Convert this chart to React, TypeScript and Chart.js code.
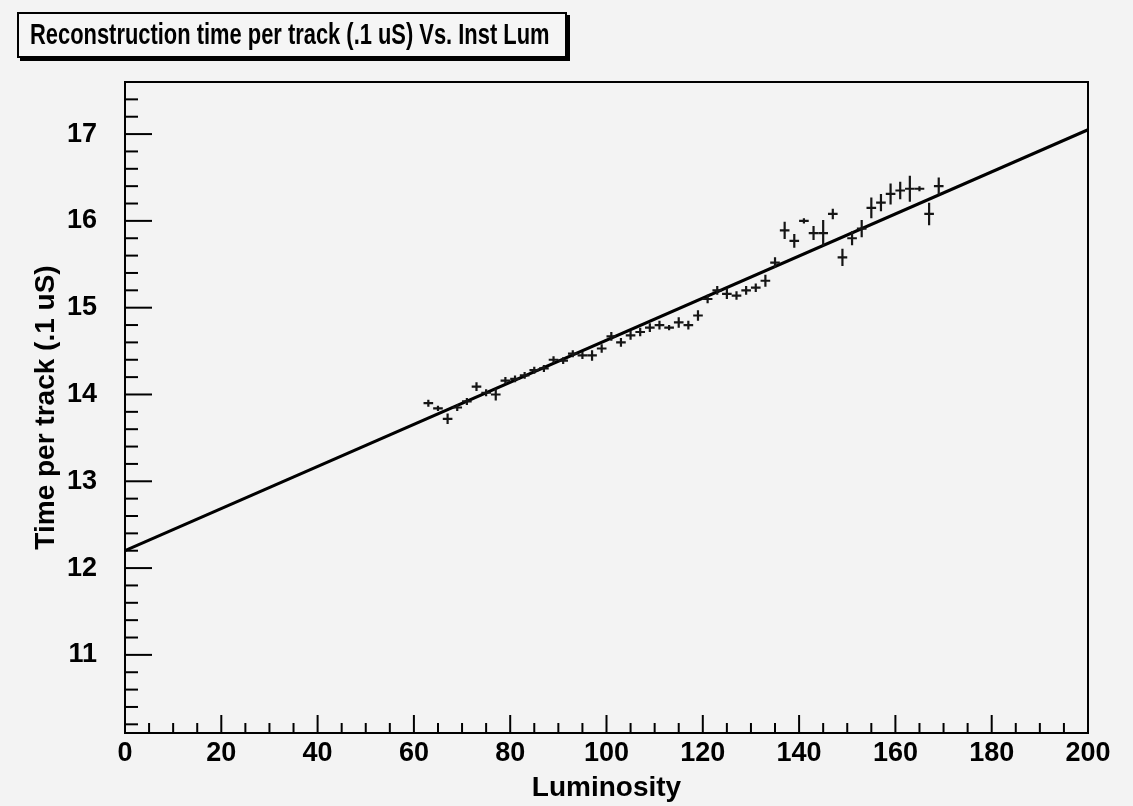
import React, { useEffect, useRef } from "react";
import { Chart, registerables } from "chart.js";

Chart.register(...registerables);

const lumValues = [63, 65, 67, 69, 71, 73, 75, 77, 79, 81, 83, 85, 87, 89, 91, 93, 95, 97, 99, 101, 103, 105, 107, 109, 111, 113, 115, 117, 119, 121, 123, 125, 127, 129, 131, 133, 135, 137, 139, 141, 143, 145, 147, 149, 151, 153, 155, 157, 159, 161, 163, 165, 167, 169];
const timeValues = [13.90, 13.84, 13.72, 13.85, 13.92, 14.09, 14.02, 14.00, 14.16, 14.18, 14.22, 14.28, 14.30, 14.40, 14.39, 14.47, 14.45, 14.45, 14.53, 14.67, 14.60, 14.68, 14.72, 14.77, 14.80, 14.77, 14.83, 14.80, 14.91, 15.10, 15.20, 15.16, 15.14, 15.20, 15.23, 15.31, 15.52, 15.89, 15.77, 16.00, 15.86, 15.86, 16.08, 15.58, 15.80, 15.91, 16.15, 16.21, 16.31, 16.35, 16.37, 16.37, 16.08, 16.40];
const timeErrors = [0.04, 0.03, 0.06, 0.04, 0.04, 0.05, 0.04, 0.07, 0.04, 0.04, 0.04, 0.04, 0.04, 0.04, 0.04, 0.04, 0.04, 0.06, 0.05, 0.05, 0.05, 0.05, 0.05, 0.05, 0.05, 0.03, 0.06, 0.05, 0.06, 0.05, 0.05, 0.06, 0.05, 0.05, 0.05, 0.07, 0.06, 0.10, 0.08, 0.03, 0.08, 0.15, 0.06, 0.10, 0.08, 0.10, 0.12, 0.10, 0.12, 0.10, 0.15, 0.03, 0.13, 0.10];
const lumHalfWidth = 1;
const fitLum = [0, 200];
const fitTime = [12.2, 17.05];
const xTickValues = [0, 20, 40, 60, 80, 100, 120, 140, 160, 180, 200];
const yTickValues = [11, 12, 13, 14, 15, 16, 17];

const TITLE = "Reconstruction time per track (.1 uS) Vs. Inst Lum";
const FONT = "'Liberation Sans', Arial, Helvetica, sans-serif";

const framePlugin = {
  id: "rootFrame",
  afterDatasetsDraw(chart: any) {
    const { ctx, chartArea: a, scales } = chart;
    const xs = scales.x;
    const ys = scales.y;
    ctx.save();
    // error bars
    ctx.strokeStyle = "#151515";
    ctx.lineWidth = 2.2;
    for (let i = 0; i < lumValues.length; i++) {
      const x = xs.getPixelForValue(lumValues[i]);
      const y = ys.getPixelForValue(timeValues[i]);
      const x0 = xs.getPixelForValue(lumValues[i] - lumHalfWidth);
      const x1 = xs.getPixelForValue(lumValues[i] + lumHalfWidth);
      const y0 = ys.getPixelForValue(timeValues[i] - timeErrors[i]);
      const y1 = ys.getPixelForValue(timeValues[i] + timeErrors[i]);
      ctx.beginPath();
      ctx.moveTo(x0, y);
      ctx.lineTo(x1, y);
      ctx.moveTo(x, y0);
      ctx.lineTo(x, y1);
      ctx.stroke();
    }
    // frame
    ctx.strokeStyle = "#000";
    ctx.lineWidth = 2;
    ctx.strokeRect(a.left, a.top, a.right - a.left, a.bottom - a.top);
    // y ticks (inside)
    ctx.lineWidth = 2;
    const yMin = ys.min, yMax = ys.max;
    for (let k = Math.ceil(yMin * 5); k <= Math.floor(yMax * 5); k++) {
      const v = k / 5;
      const major = k % 5 === 0;
      const py = ys.getPixelForValue(v);
      ctx.beginPath();
      ctx.moveTo(a.left, py);
      ctx.lineTo(a.left + (major ? 27 : 13), py);
      ctx.stroke();
    }
    // x ticks (inside)
    for (let k = 0; k <= 40; k++) {
      const v = k * 5;
      const major = k % 4 === 0;
      const px = xs.getPixelForValue(v);
      ctx.beginPath();
      ctx.moveTo(px, a.bottom);
      ctx.lineTo(px, a.bottom - (major ? 18 : 10));
      ctx.stroke();
    }
    ctx.restore();
  },
};

function ChartView() {
  const ref = useRef<HTMLCanvasElement | null>(null);
  useEffect(() => {
    if (!ref.current) return;
    const chart = new Chart(ref.current, {
      type: "scatter",
      data: {
        datasets: [
          {
            label: "fit",
            type: "line",
            data: fitLum.map((l, i) => ({ x: l, y: fitTime[i] })),
            borderColor: "#000",
            borderWidth: 3,
            pointRadius: 0,
            fill: false,
          },
          {
            label: "data",
            data: lumValues.map((l, i) => ({ x: l, y: timeValues[i] })),
            pointRadius: 0,
            showLine: false,
          },
        ],
      },
      options: {
        animation: false,
        responsive: false,
        layout: { padding: { top: 82, right: 45, left: 0, bottom: 0 } },
        plugins: {
          legend: { display: false },
          tooltip: { enabled: false },
          title: { display: false },
        },
        scales: {
          x: {
            type: "linear",
            min: 0,
            max: 200,
            afterBuildTicks: (s: any) => {
              s.ticks = xTickValues.map((v) => ({ value: v }));
            },
            afterFit: (s: any) => {
              s.height = 73;
            },
            grid: { display: false },
            border: { display: false },
            ticks: {
              color: "#000",
              padding: -4,
              maxRotation: 0,
              font: { family: FONT, size: 27, weight: "bold" },
            },
            title: {
              display: true,
              text: "Luminosity",
              color: "#000",
              padding: { top: 0, bottom: 1 },
              font: { family: FONT, size: 28, weight: "bold" },
            },
          },
          y: {
            type: "linear",
            min: 10.1,
            max: 17.6,
            afterBuildTicks: (s: any) => {
              s.ticks = yTickValues.map((v) => ({ value: v }));
            },
            afterFit: (s: any) => {
              s.width = 125;
            },
            grid: { display: false },
            border: { display: false },
            ticks: {
              color: "#000",
              padding: 20,
              font: { family: FONT, size: 27, weight: "bold" },
            },
            title: {
              display: true,
              text: "Time per track (.1 uS)",
              color: "#000",
              padding: { top: 29, bottom: 0 },
              font: { family: FONT, size: 28, weight: "bold" },
            },
          },
        },
      },
      plugins: [framePlugin],
    });
    return () => chart.destroy();
  }, []);
  return <canvas ref={ref} width={1133} height={806} style={{ display: "block" }} />;
}

export default function App() {
  return (
    <div
      style={{
        position: "absolute",
        left: 0,
        top: 0,
        width: 1133,
        height: 806,
        background: "#f3f3f3",
        overflow: "hidden",
      }}
    >
      <ChartView />
      <div
        style={{
          position: "absolute",
          left: 17,
          top: 12,
          width: 546,
          height: 42,
          border: "2px solid #000",
          boxShadow: "3px 3px 0 #000",
          background: "#f5f5f5",
          overflow: "hidden",
        }}
      >
        <span
          style={{
            position: "absolute",
            left: 11,
            top: 3,
            whiteSpace: "nowrap",
            fontFamily: FONT,
            fontWeight: "bold",
            fontSize: 29,
            lineHeight: "35px",
            color: "#000",
            transform: "scaleX(0.755)",
            transformOrigin: "left center",
          }}
        >
          {TITLE}
        </span>
      </div>
    </div>
  );
}
